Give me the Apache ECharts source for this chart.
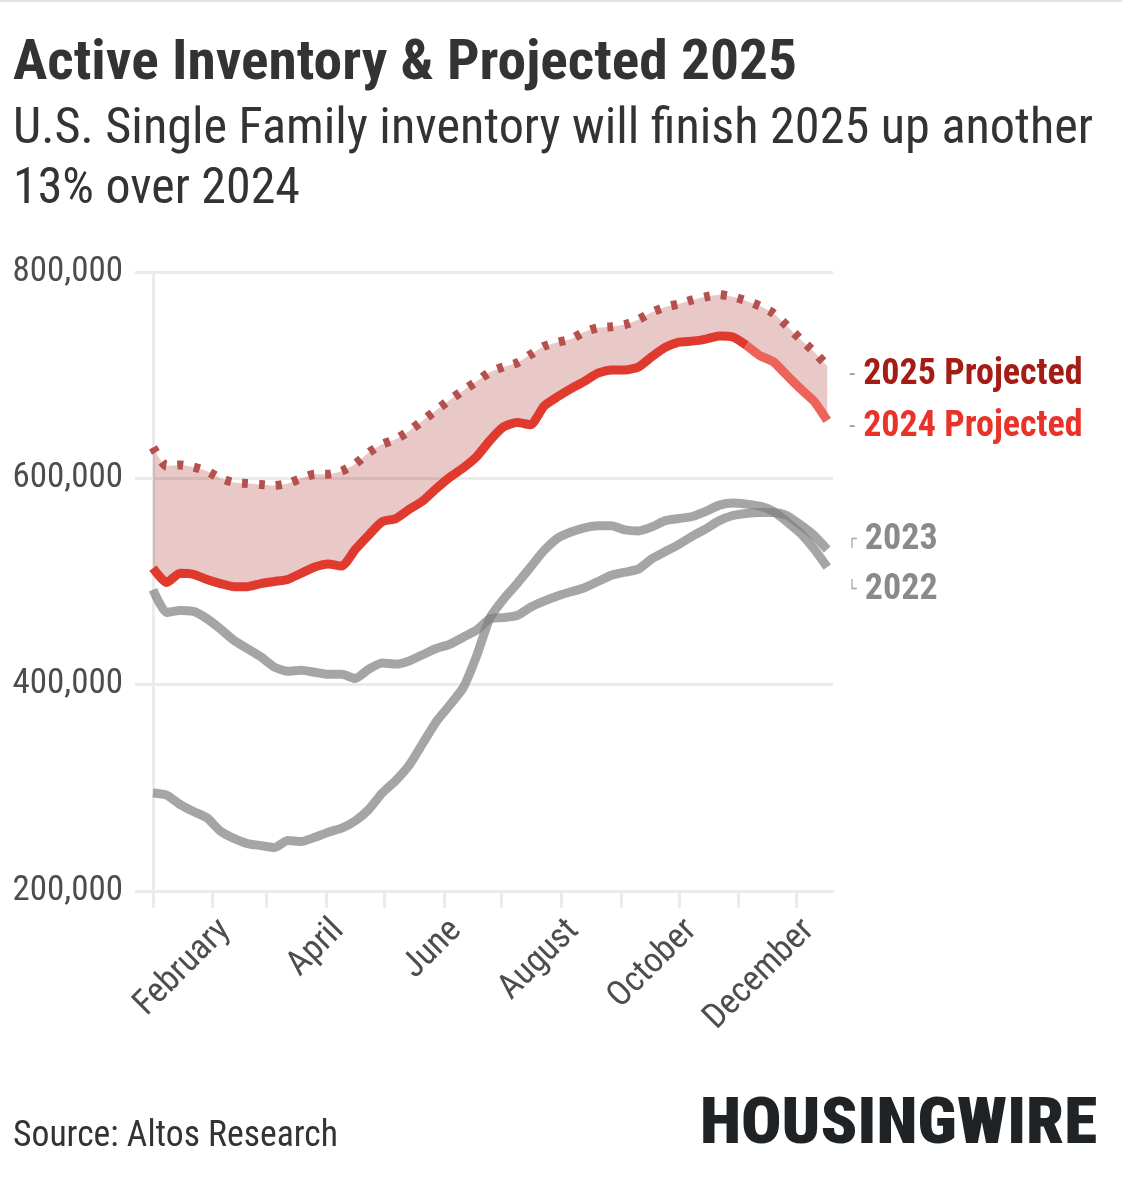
<!DOCTYPE html>
<html><head><meta charset="utf-8">
<script src="https://cdn.jsdelivr.net/npm/echarts@6/dist/echarts.min.js"></script>
<style>html,body{margin:0;padding:0;background:#fff;}#c{width:1122px;height:1183px;}</style>
</head><body><div id="c"></div>
<script>
// ---------- data ----------
const monthNames = ['January','February','March','April','May','June','July','August','September','October','November','December'];
const labeledMonths = ['February','April','June','August','October','December'];
const yTicks = [200000, 400000, 600000, 800000];
// weekly observation positions (day of year index, Jan 1 = 0)
const weekDays = [0,7,14,21,28,35,42,49,56,63,70,77,84,91,98,105,112,119,126,133,140,147,154,161,168,175,182,189,196,203,210,217,224,231,238,245,252,259,266,273,280,287,294,301,308,315,322,329,336,343,350];
const v2025 = [630000,612000,613000,611000,607000,600000,596000,595000,594000,593000,
               595000,600000,604000,604000,607000,614000,625000,633000,638000,646000,
               656000,666000,676000,685000,694000,703000,708000,712000,720000,728000,
               732000,735000,742000,746000,747000,749000,754000,761000,766000,769000,
               773000,776000,778000,776000,772000,767000,760000,748000,735000,723000,709000];
const v2024 = [513000,499000,508000,507000,502000,498000,495000,495000,498000,500000,
               502000,508000,514000,517000,515000,531000,545000,558000,561000,570000,
               578000,590000,601000,610000,621000,637000,650000,654000,652000,670000,
               679000,687000,694000,702000,705000,705000,708000,718000,727000,732000,
               733000,735000,738000,737000,729000,719000,713000,700000,687000,675000,656000];
const v2023 = [492000,470000,472000,471000,464000,454000,443000,435000,427000,417000,
               413000,414000,412000,410000,410000,406000,415000,421000,420000,423000,
               429000,435000,439000,446000,453000,464000,465000,467000,475000,481000,
               486000,490000,494000,500000,506000,509000,512000,522000,529000,536000,
               544000,551000,559000,564000,566000,567000,567000,564000,555000,545000,531000];
const v2022 = [295000,293000,284000,277000,271000,258000,251000,246000,244000,242000,
               249000,248000,252000,257000,261000,268000,279000,295000,307000,322000,
               343000,364000,380000,397000,428000,465000,483000,498000,514000,530000,
               542000,548000,552000,554000,554000,550000,549000,553000,559000,561000,
               563000,568000,574000,576000,575000,573000,568000,558000,547000,532000,514000];
const projStart = 44; // index where the 2024 line turns into its projected part
const lastDay = 353;

// ---------- helpers ----------
const FONT = "'Roboto Condensed', 'Liberation Sans Narrow', Roboto, sans-serif";
const days = [];
for (let i = 0; i <= lastDay; i++) {
  const d = new Date(Date.UTC(2023, 0, 1 + i));
  days.push(d.toISOString().slice(5, 10));
}
const monthOf = v => monthNames[parseInt(v.slice(0, 2), 10) - 1];
const isMonthStart = v => v.slice(3) === '01';
const pts = (arr, from, to) => arr.map((v, i) => [weekDays[i], v]).slice(from || 0, to);
const diff = v2025.map((v, i) => v - v2024[i]);

const mctx = document.createElement('canvas').getContext('2d');
function fitScale(text, font, w) { mctx.font = font; return w / mctx.measureText(text).width; }
function txt(text, x, yMid, font, w, fill) {
  return { type: 'text', x: x, y: yMid, scaleX: fitScale(text, font, w), silent: true,
    style: { text: text, font: font, fill: fill, verticalAlign: 'middle', align: 'left' } };
}

const SMOOTH = 0.2;
const GRID = '#ebebeb';
const LW = 9;
const baseLine = { type: 'line', symbol: 'none', smooth: SMOOTH, silent: true };
const labelRich = (dashColor, dashSize, textColor) => ({
  d: { color: dashColor, fontSize: dashSize, fontFamily: dashSize < 20 ? 'DejaVu Sans' : FONT, padding: [0, 8, 0, 0] },
  t: { color: textColor, fontSize: 36, fontWeight: 'bold', fontFamily: FONT }
});

const chart = echarts.init(document.getElementById('c'), null, { renderer: 'canvas' });
const tFont = "bold 56px " + FONT;
const sFont = "50px " + FONT;
chart.setOption({
  animation: false,
  backgroundColor: '#ffffff',
  grid: { left: 153, right: 289, top: 272, bottom: 292, containLabel: false },
  xAxis: {
    type: 'category', data: days, boundaryGap: false,
    axisLine: { show: true, lineStyle: { color: GRID, width: 3 } },
    axisTick: { show: true, length: 17, interval: (i, v) => isMonthStart(v), lineStyle: { color: GRID, width: 3 } },
    axisLabel: {
      interval: (i, v) => isMonthStart(v) && labeledMonths.indexOf(monthOf(v)) >= 0,
      formatter: v => monthOf(v), rotate: 45, margin: 22, verticalAlign: 'top',
      fontFamily: FONT, fontSize: 35, color: '#4d4d4d'
    },
    splitLine: { show: false }
  },
  yAxis: {
    type: 'value', min: yTicks[0], max: yTicks[yTicks.length - 1], interval: yTicks[1] - yTicks[0],
    axisLine: { show: true, lineStyle: { color: GRID, width: 3 } },
    axisTick: { show: true, length: 18, lineStyle: { color: GRID, width: 3 } },
    axisLabel: { formatter: v => v.toLocaleString('en-US'), margin: 30, fontFamily: FONT, fontSize: 35, color: '#4d4d4d' },
    splitLine: { show: true, lineStyle: { color: GRID, width: 3 } }
  },
  series: [
    Object.assign({}, baseLine, { name: 'bandBase', stack: 'band', data: pts(v2024), lineStyle: { opacity: 0 }, z: 1 }),
    Object.assign({}, baseLine, { name: 'band', stack: 'band', data: pts(diff), lineStyle: { opacity: 0 },
      areaStyle: { color: 'rgba(155,5,5,0.22)', opacity: 1 }, z: 1 }),
    Object.assign({}, baseLine, { name: '2022', data: pts(v2022), z: 2,
      lineStyle: { color: '#7f7f7f', width: LW, opacity: 0.7 },
      endLabel: { show: true, distance: 0, offset: [20, 23], formatter: '{d|└}{t|2022}',
        rich: labelRich('#aaaaaa', 16, '#8a8a8a') } }),
    Object.assign({}, baseLine, { name: '2023', data: pts(v2023), z: 2,
      lineStyle: { color: '#7f7f7f', width: LW, opacity: 0.7 },
      endLabel: { show: true, distance: 0, offset: [20, -10], formatter: '{d|┌}{t|2023}',
        rich: labelRich('#aaaaaa', 16, '#8a8a8a') } }),
    Object.assign({}, baseLine, { name: '2024', data: pts(v2024, 0, projStart + 1), z: 3,
      lineStyle: { color: '#e03a2e', width: LW, join: 'round' } }),
    Object.assign({}, baseLine, { name: '2024 Projected', data: pts(v2024, projStart), z: 3,
      lineStyle: { color: '#ec6459', width: LW, join: 'round' },
      endLabel: { show: true, distance: 0, offset: [22, 6], formatter: '{d|-}{t|2024 Projected}',
        rich: labelRich('#9a9a9a', 24, '#e8332a') } }),
    Object.assign({}, baseLine, { name: '2025 Projected', data: pts(v2025), z: 4,
      lineStyle: { color: '#b4504e', width: LW, type: [6, 11], cap: 'butt' },
      endLabel: { show: true, distance: 0, offset: [22, 9], formatter: '{d|-}{t|2025 Projected}',
        rich: labelRich('#9a9a9a', 24, '#a51c16') } })
  ],
  graphic: [
    { type: 'rect', silent: true, shape: { x: 0, y: 0, width: 1122, height: 2 }, style: { fill: '#e3e3e3' } },
    txt('Active Inventory & Projected 2025', 13, 65, tFont, 784, '#333333'),
    txt('U.S. Single Family inventory will finish 2025 up another', 13, 130, sFont, 1080, '#333333'),
    txt('13% over 2024', 13, 190, sFont, 287, '#333333'),
    txt('Source: Altos Research', 13, 1137, "36px " + FONT, 325, '#333333'),
    txt('HOUSINGWIRE', 700, 1127, "900 64px " + FONT, 397, '#1f2326')
  ]
});
</script></body></html>
